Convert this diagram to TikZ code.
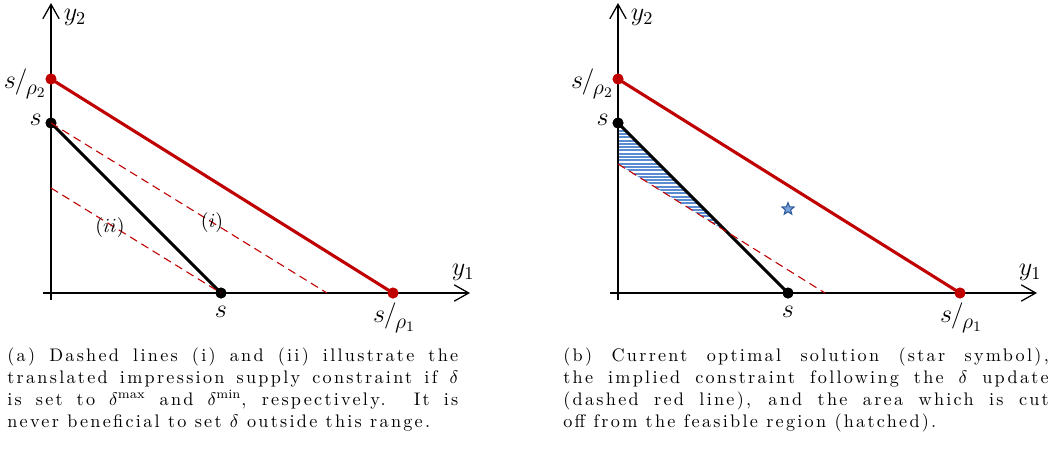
\documentclass[tikz,border=0pt]{standalone}
\usepackage{fontspec}
\usetikzlibrary{arrows.meta,shapes.geometric}
\newfontfamily\captfont{Latin Modern Roman}[LetterSpace=12.5]
\definecolor{bnd}{HTML}{C00000}
\definecolor{hatchb}{HTML}{5B8BD0}
\definecolor{stardk}{HTML}{2E5C9A}
\definecolor{starlt}{HTML}{7BA2DC}
\newcommand{\srho}[1]{$s\mkern-1mu/\mkern-1mu$\lower3pt\hbox{\fontsize{11.5}{11.5}\selectfont$\rho_{#1}$}}
\tikzset{
  axis/.style={line width=0.7pt, -{Straight Barb[length=8pt,width=9pt]}},
  budget/.style={bnd, line width=1.7pt},
  supply/.style={black, line width=1.7pt},
  shifted/.style={bnd, line width=0.6pt, dash pattern=on 4.5pt off 2.8pt},
  dotr/.style={circle, fill=bnd, minimum size=6pt, inner sep=0pt},
  dotb/.style={circle, fill=black, minimum size=6pt, inner sep=0pt},
  lbl/.style={inner sep=0pt, font=\fontsize{14}{14}\selectfont},
  romn/.style={inner sep=0pt, font=\fontsize{11}{11}\selectfont},
  capt/.style={anchor=north west, align=justify, inner sep=0pt,
    font=\captfont\fontsize{10}{12.1}\selectfont},
}
% common frame: axes, budget line, supply line and their end points
\newcommand{\feasframe}[1]{%
  \coordinate (#1xs) at (43,293);
  \coordinate (#1xe) at (470,293);
  \coordinate (#1ys) at (51,300);
  \coordinate (#1ye) at (51,3);
  \draw[axis] (#1xs) -- (#1xe);
  \draw[axis] (#1ys) -- (#1ye);
  \node[lbl] (#1y1) at (463,272) {$y_1$};
  \node[lbl] (#1y2) at (75,17) {$y_2$};
  \node[dotr] (#1r2) at (51,79) {};
  \node[dotr] (#1r1) at (393,293) {};
  \node[dotb] (#1b2) at (51,123) {};
  \node[dotb] (#1b1) at (221,293) {};
  \draw[budget] (#1r2.center) -- (#1r1.center);
  \draw[supply] (#1b2.center) -- (#1b1.center);
  \node[dotr] at (#1r2) {};
  \node[dotr] at (#1r1) {};
  \node[dotb] at (#1b2) {};
  \node[dotb] at (#1b1) {};
  \node[lbl, anchor=east] (#1s2) at (42,120) {$s$};
  \node[lbl] (#1s1) at (221,312) {$s$};
  \node[lbl, anchor=east] (#1q2) at (46,84) {\srho{2}};
  \node[lbl] (#1q1) at (394,318) {\srho{1}};
}

\begin{document}
\begin{tikzpicture}[x=0.55pt, y=-0.55pt]
\useasboundingbox (0,0) rectangle (1053,469);

% left panel
\feasframe{a}
\coordinate (ai) at (327,293);
\coordinate (aii) at (51,188);
\draw[shifted] (ab2.center) -- (ai);
\draw[shifted] (aii) -- (ab1.center);
\node[romn] (ali) at (212,223) {$(i)$};
\node[romn] (alii) at (110,228) {$(ii)$};

% right panel, same geometry shifted
\begin{scope}[shift={(567,0)}]
  \coordinate (bd1) at (51,164);
  \coordinate (bd2) at (258,293);
  \coordinate (bx) at (160,232);
  % hatched cut-off area
  \begin{scope}
    \clip (51,125) -- (bd1) -- (bx) -- cycle;
    \foreach \h in {124,127.3,...,236}
      \draw[hatchb, line width=1.1pt] (45,\h) -- (170,\h);
  \end{scope}
  \feasframe{b}
  \draw[shifted] (bd1) -- (bd2);
  \node[star, star points=5, star point ratio=2.3, draw=stardk, fill=starlt,
    line width=0.6pt, minimum size=7pt, inner sep=0pt] (bopt) at (221,209) {};
\end{scope}

% captions
\node[capt, text width=248pt] (capa) at (7,347)
  {(a) Dashed lines (i) and (ii) illustrate the\linebreak
   translated impression supply constraint if $\delta$\linebreak
   is set to $\delta^{\max}$ and $\delta^{\min}$, respectively. It is\linebreak
   never beneficial to set $\delta$ outside this range.};
\node[capt, text width=267pt] (capb) at (563,347)
  {(b) Current optimal solution (star symbol),\linebreak
   the implied constraint following the $\delta$ update\linebreak
   (dashed red line), and the area which is cut\linebreak
   off from the feasible region (hatched).};

\end{tikzpicture}
\end{document}
